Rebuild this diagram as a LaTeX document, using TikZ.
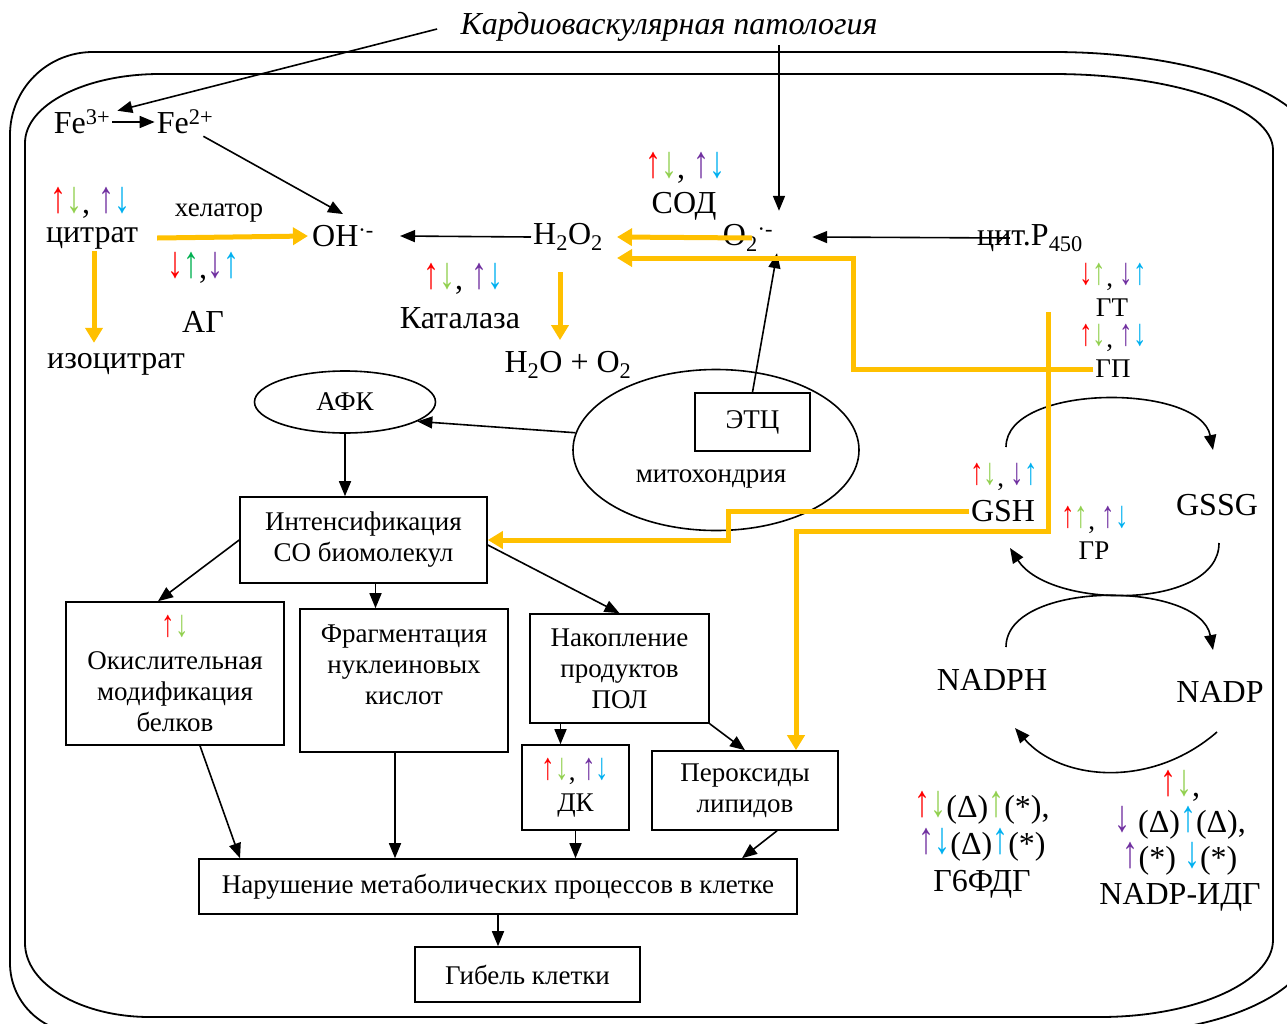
\documentclass[tikz,border=0pt]{standalone}
\usepackage{fontspec}
\setmainfont{Liberation Serif}
\usetikzlibrary{arrows.meta,shapes.geometric}
\definecolor{cr}{HTML}{FF0000}
\definecolor{cg}{HTML}{92D050}
\definecolor{cdg}{HTML}{00B050}
\definecolor{cp}{HTML}{7030A0}
\definecolor{cb}{HTML}{00B0F0}
\definecolor{ylw}{HTML}{FFC000}
\newcommand{\upa}[1]{\textcolor{#1}{\raisebox{0.05em}{\scalebox{1}[1.4]{↑}}}}
\newcommand{\dna}[1]{\textcolor{#1}{\raisebox{0.05em}{\scalebox{1}[1.4]{↓}}}}

\begin{document}
\begin{tikzpicture}[x=1pt, y=-1pt,
  lbl/.style={inner sep=2pt, font=\fontsize{32}{34}\selectfont},
  sml/.style={inner sep=2pt, font=\fontsize{27}{29}\selectfont},
  box/.style={draw, line width=1.6pt, align=center, inner sep=0pt, font=\fontsize{27}{31}\selectfont},
  arr/.style={line width=1.6pt, -{Triangle[length=15pt,width=12pt]}},
  yarr/.style={draw=ylw, line width=5pt, -{Triangle[length=15pt,width=17pt]}},
  cell/.style={line width=1.8pt}]
\useasboundingbox (0,0) rectangle (1287,1023);

% cell
\begin{scope}
  \clip (0,0) rectangle (1287,1023);
  \draw[cell] (10,135) .. controls (10,89) and (47,52) .. (93,52) -- (1053,52)
    .. controls (1196,52) and (1313,95) .. (1313,147) -- (1313,940)
    .. controls (1313,991) and (1223,1033) .. (1113,1033) -- (81,1033)
    .. controls (42,1033) and (10,1002) .. (10,963) -- cycle;
  \draw[cell] (25,143) .. controls (25,105) and (85,74) .. (160,74) -- (1053,74)
    .. controls (1174,74) and (1273,108) .. (1273,150) -- (1273,940)
    .. controls (1273,982) and (1195,1017) .. (1100,1017) -- (150,1017)
    .. controls (81,1017) and (25,984) .. (25,943) -- cycle;
\end{scope}

\node[font=\itshape\fontsize{32}{34}\selectfont] (title) at (669,27) {Кардиоваскулярная патология};

\node[lbl] (fe3) at (82,122) {Fe\textsuperscript{3+}};
\node[lbl] (fe2) at (185,122) {Fe\textsuperscript{2+}};
\node[lbl] (citarr) at (90,203) {\upa{cr}\dna{cg}, \upa{cp}\dna{cb}};
\node[lbl] (citr) at (92,238) {цитрат};
\node[sml] (chel) at (219,213) {хелатор};
\node[lbl] (oh) at (343,236) {OH\textsuperscript{·-}};
\node[lbl] (agarr) at (203,268) {\dna{cr}\upa{cdg},\dna{cp}\upa{cb}};
\node[lbl] (ag) at (203,322) {АГ};
\node[lbl] (iso) at (116,364) {изоцитрат};
\node[lbl] (h2o2) at (568,237) {H\textsubscript{2}O\textsubscript{2}};
\node[lbl] (katarr) at (463,279) {\upa{cr}\dna{cg}, \upa{cp}\dna{cb}};
\node[lbl] (kat) at (460,318) {Каталаза};
\node[lbl] (h2o) at (568,365) {H\textsubscript{2}O + O\textsubscript{2}};
\node[lbl] (sodarr) at (685,168) {\upa{cr}\dna{cg}, \upa{cp}\dna{cb}};
\node[lbl] (sod) at (684,206) {СОД};
\node[lbl] (o2txt) at (748,238) {O\textsubscript{2}\textsuperscript{·-}};
\node[circle, minimum size=52pt, inner sep=0pt] (o2) at (779,237) {};
\node[lbl] (cyt) at (1030,238) {цит.P\textsubscript{450}};

\node[sml] (gtarr) at (1113,277) {\dna{cr}\upa{cg}, \dna{cp}\upa{cb}};
\node[sml] (gt) at (1112,308) {ГТ};
\node[sml] (gparr) at (1113,338) {\upa{cr}\dna{cg}, \upa{cp}\dna{cb}};
\node[sml] (gp) at (1113,369) {ГП};
\node[sml] (gsharr) at (1004,477) {\upa{cr}\dna{cg}, \dna{cp}\upa{cb}};
\node[lbl] (gsh) at (1003,511) {GSH};
\node[lbl] (gssg) at (1217,505) {GSSG};
\node[sml] (grarr) at (1095,520) {\upa{cr}\upa{cg}, \upa{cp}\dna{cb}};
\node[sml] (gr) at (1094,551) {ГР};
\node[lbl] (nadph) at (992,680) {NADPH};
\node[lbl] (nadp) at (1220,692) {NADP};
\node[lbl, align=center, font=\fontsize{32}{37}\selectfont] (g6pd) at (982,845)
  {\upa{cr}\dna{cg}(Δ)\upa{cg}(*),\\\upa{cp}\dna{cb}(Δ)\upa{cb}(*)\\Г6ФДГ};
\node[lbl, align=center, font=\fontsize{32}{36}\selectfont] (idh) at (1180,841)
  {\upa{cr}\dna{cg},\\\dna{cp} (Δ)\upa{cb}(Δ),\\\upa{cp}(*) \dna{cb}(*)\\NADP-ИДГ};

\node[draw, ellipse, line width=1.6pt, minimum width=286pt, minimum height=161pt] (mito) at (716,450) {};
\node[sml] (mitotxt) at (711,479) {митохондрия};
\node[box, minimum width=115pt, minimum height=58pt] (etc) at (752.5,422) {ЭТЦ};
\node[draw, ellipse, line width=1.6pt, minimum width=181pt, minimum height=62pt, inner sep=0pt,
  font=\fontsize{27}{29}\selectfont] (afk) at (345,402) {АФК};

\node[box, minimum width=247pt, minimum height=86pt] (intens) at (363.5,540) {Интенсификация\\СО биомолекул};
\node[box, minimum width=218pt, minimum height=143pt] (okisl) at (175,673.5)
  {\upa{cr}\dna{cg}\\Окислительная\\модификация\\белков};
\node[box, minimum width=208pt, minimum height=143pt] (frag) at (404,680.5) {Фрагментация\\нуклеиновых\\кислот\\~};
\node[box, minimum width=179pt, minimum height=109pt] (nak) at (619.5,668.5) {Накопление\\продуктов\\ПОЛ};
\node[box, minimum width=107pt, minimum height=85pt] (dk) at (575.5,787.5) {\upa{cr}\dna{cg}, \upa{cp}\dna{cb}\\ДК};
\node[box, minimum width=186pt, minimum height=79pt] (perox) at (745,790.5) {Пероксиды\\липидов};
\node[box, minimum width=598pt, minimum height=55pt] (narush) at (498,886.5) {Нарушение метаболических процессов в клетке};
\node[box, minimum width=225pt, minimum height=55pt] (gib) at (527.5,974.5) {Гибель клетки};

\coordinate (gsha) at (1006,447);
\coordinate (gssga) at (1213,450);
\coordinate (gssgb) at (1219,543);
\coordinate (gshb) at (1010,548);
\coordinate (nadpha) at (1006,647);
\coordinate (nadpa) at (1213,650);
\coordinate (nadpb) at (1217,732);
\coordinate (nadphb) at (1015,728);

\draw[arr] ([xshift=-20pt,yshift=-2pt]title.west) -- ([xshift=5pt,yshift=-3pt]fe3.north east);
\draw[arr] (title.south -| o2.north) -- (o2.north);
\draw[arr] (fe3) -- (fe2);
\draw[arr] ([xshift=-12pt]fe2.south east) -- ([yshift=9pt]oh.north);
\draw[arr] (h2o2.west) -- ([xshift=24pt]oh.east);
\draw[arr] ([xshift=35pt]cyt.west) -- ([xshift=7pt]o2.east);
\draw[arr] (etc.north) -- ([xshift=-2pt,yshift=10pt]o2.south);
\draw[arr] (mito.173) -- (afk.-15);
\draw[arr] (afk.south) -- (afk.south |- intens.north);
\draw[arr] (intens.west) -- ([xshift=-17pt]okisl.north);
\draw[arr] ([xshift=12pt]intens.south) -- ([xshift=12pt]intens.south |- frag.north);
\draw[arr] ([yshift=-5pt]intens.east) -- (nak.north);
\draw[arr] ([xshift=-15pt]dk.north |- nak.south) -- ([xshift=-15pt]dk.north);
\draw[arr] (nak.south east) -- (perox.north);
\draw[arr] (dk.south) -- (dk.south |- narush.north);
\draw[arr] ([xshift=32pt]perox.south) -- ([xshift=244pt]narush.north);
\draw[arr] ([xshift=25pt]okisl.south) -- ([xshift=-258pt]narush.north);
\draw[arr] ([xshift=-9pt]frag.south) -- ([xshift=-9pt]frag.south |- narush.north);
\draw[arr] (narush.south) -- (narush.south |- gib.north);

\draw[arr] (gsha) .. controls +(0,-64) and +(-13,-67) .. (gssga);
\draw[arr] (gssgb) .. controls +(0,67) and +(40,62) .. (gshb);
\draw[arr] (nadpha) .. controls +(0,-67) and +(-13,-70) .. (nadpa);
\draw[arr] (nadpb) .. controls +(-67,58) and +(45,52) .. (nadphb);

\draw[yarr] ([xshift=17pt]citr.east) -- ([xshift=-2pt]oh.west);
\draw[yarr] ([xshift=2pt]citr.south) -- ([xshift=2pt,yshift=8pt]citr.south |- iso.north);
\draw[yarr] ([xshift=-8pt,yshift=77pt]h2o.north) -- ([xshift=-8pt,yshift=9pt]h2o.north);
\draw[yarr] ([xshift=4pt]o2txt.center) -- ([xshift=12pt]h2o2.east);
\draw[yarr] (gp.west) -- ++(-240,0) |- ([xshift=12pt,yshift=-21pt]h2o2.east);
\draw[yarr] ([xshift=-45pt,yshift=-4pt]gt.west) -- ++(0,219) -| ([xshift=51pt]perox.north);
\draw[yarr] (gsh.west) -- ++(-240,0) |- (intens.east);
\end{tikzpicture}
\end{document}
